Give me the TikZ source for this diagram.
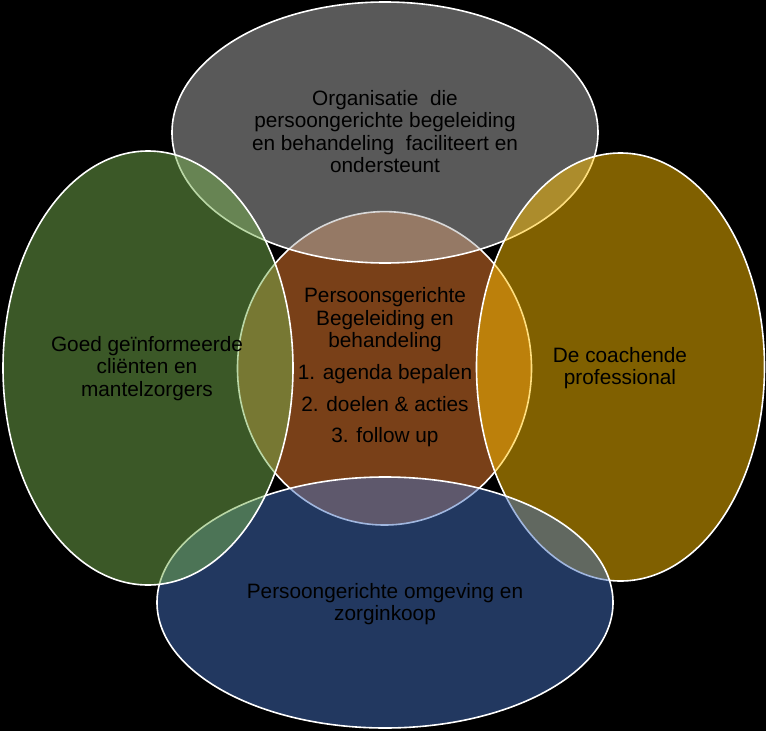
\documentclass[tikz,border=0pt]{standalone}
\usepackage{fontspec}
\setmainfont{Liberation Sans}
\usepackage{tikz}
\definecolor{kernbruin}{RGB}{242,128,48}
\definecolor{orggrijs}{RGB}{178,178,178}
\definecolor{coachgoud}{RGB}{255,192,0}
\definecolor{omgblauw}{RGB}{68,112,192}
\definecolor{clientgroen}{RGB}{118,176,78}

\begin{document}
\begin{tikzpicture}[x=1pt,y=-1pt,
        venn/.style={draw=white, line width=1.6pt, fill opacity=0.5},
        lbl/.style={align=center, text=black, font=\fontsize{20.8}{22.5}\selectfont}]
                    \useasboundingbox (0,0) rectangle (766,731);
                    \fill[black] (0,0) rectangle (766,731);

                    % kern eerst, de vier ellipsen er half doorzichtig overheen
                    \draw[venn, fill=kernbruin] (384.5,368.3) ellipse [x radius=147, y radius=156.7];
                    \draw[venn, fill=orggrijs] (385,132.5) ellipse [x radius=213, y radius=130.5];
                    \draw[venn, fill=coachgoud] (620.5,367) ellipse [x radius=144, y radius=214];
                    \draw[venn, fill=omgblauw] (385,602.5) ellipse [x radius=228, y radius=125.5];
                    \draw[venn, fill=clientgroen] (148,368) ellipse [x radius=145, y radius=217];

                    \node[lbl] (org) at (385,131.5) {Organisatie\ \ die\\persoongerichte begeleiding\\en behandeling\ \ faciliteert en\\ondersteunt};
                    \node[lbl] (client) at (147,368.5) {Goed geïnformeerde\\cliënten en\\mantelzorgers};
                    \node[lbl] (coach) at (620,368) {De coachende\\professional};
                    \node[lbl] (omg) at (385,604) {Persoongerichte omgeving en\\zorginkoop};
                    \node[lbl] (kern) at (385,367.5) {Persoonsgerichte\\Begeleiding en\\behandeling\\[9.5pt]
                        1. agenda bepalen\\[9.5pt] 2. doelen \& acties\\[8.5pt] 3. follow up};
                \end{tikzpicture}
\end{document}
